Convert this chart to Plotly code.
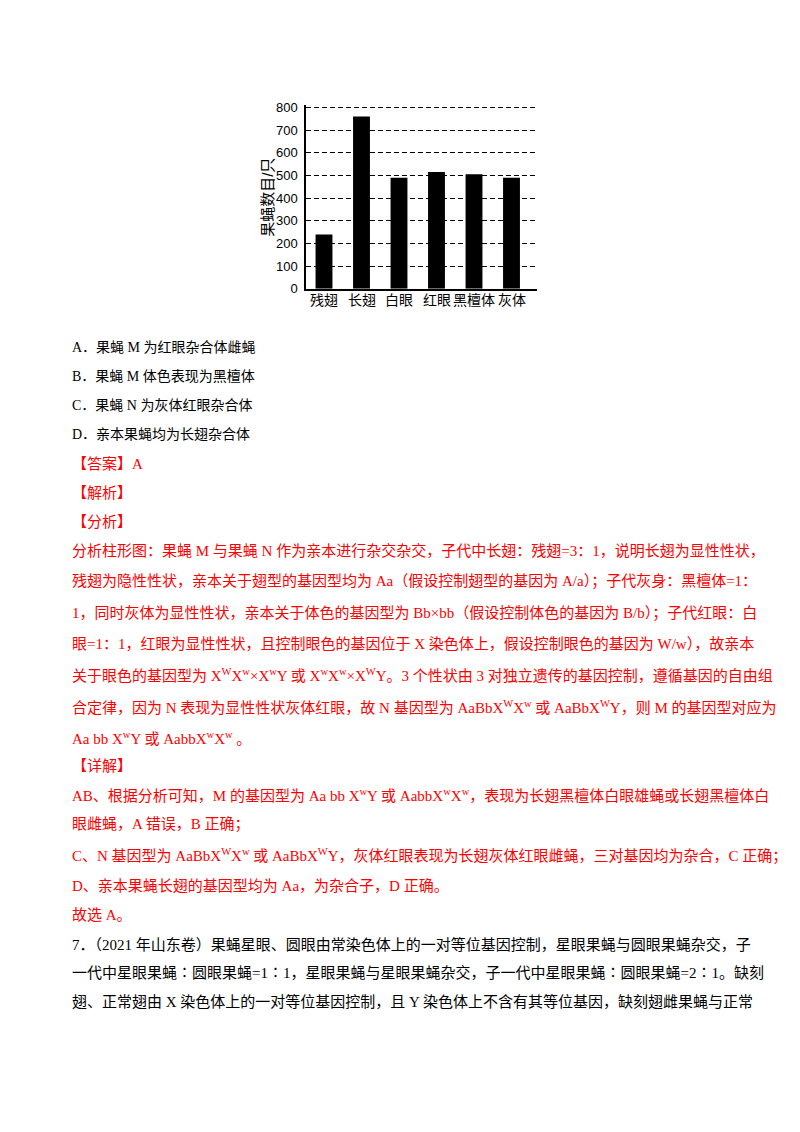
import plotly.graph_objects as go

# bar chart data: 子代果蝇数目
categories = ['残翅', '长翅', '白眼', '红眼', '黑檀体', '灰体']
counts = [240, 760, 490, 515, 505, 490]
y_ticks = [0, 100, 200, 300, 400, 500, 600, 700, 800]

# page text, one entry per printed line (pixel row, text, colour)
W = 'X<sup>W</sup>'
w = 'X<sup>w</sup>'
text_rows = [346, 375, 405, 434, 464, 494, 523,
             552, 583, 615, 646, 678, 710, 741,
             770, 799, 829, 860, 891, 920,
             950, 979, 1008]
text_lines = [
    'A．果蝇 M 为红眼杂合体雌蝇',
    'B．果蝇 M 体色表现为黑檀体',
    'C．果蝇 N 为灰体红眼杂合体',
    'D．亲本果蝇均为长翅杂合体',
    '【答案】A',
    '【解析】',
    '【分析】',
    '分析柱形图：果蝇 M 与果蝇 N 作为亲本进行杂交杂交，子代中长翅：残翅=3：1，说明长翅为显性性状，',
    '残翅为隐性性状，亲本关于翅型的基因型均为 Aa（假设控制翅型的基因为 A/a）；子代灰身：黑檀体=1：',
    '1，同时灰体为显性性状，亲本关于体色的基因型为 Bb×bb（假设控制体色的基因为 B/b）；子代红眼：白',
    '眼=1：1，红眼为显性性状，且控制眼色的基因位于 X 染色体上，假设控制眼色的基因为 W/w），故亲本',
    '关于眼色的基因型为 ' + W + w + '×' + w + 'Y 或 ' + w + w + '×' + W + 'Y。3 个性状由 3 对独立遗传的基因控制，遵循基因的自由组',
    '合定律，因为 N 表现为显性性状灰体红眼，故 N 基因型为 AaBb' + W + w + ' 或 AaBb' + W + 'Y，则 M 的基因型对应为',
    'Aa bb ' + w + 'Y 或 Aabb' + w + w + ' 。',
    '【详解】',
    'AB、根据分析可知，M 的基因型为 Aa bb ' + w + 'Y 或 Aabb' + w + w + '，表现为长翅黑檀体白眼雄蝇或长翅黑檀体白',
    '眼雌蝇，A 错误，B 正确；',
    'C、N 基因型为 AaBb' + W + w + ' 或 AaBb' + W + 'Y，灰体红眼表现为长翅灰体红眼雌蝇，三对基因均为杂合，C 正确；',
    'D、亲本果蝇长翅的基因型均为 Aa，为杂合子，D 正确。',
    '故选 A。',
    '7．（2021 年山东卷）果蝇星眼、圆眼由常染色体上的一对等位基因控制，星眼果蝇与圆眼果蝇杂交，子',
    '一代中星眼果蝇∶圆眼果蝇=1∶1，星眼果蝇与星眼果蝇杂交，子一代中星眼果蝇∶圆眼果蝇=2∶1。缺刻',
    '翅、正常翅由 X 染色体上的一对等位基因控制，且 Y 染色体上不含有其等位基因，缺刻翅雌果蝇与正常',
]
text_colors = ['black'] * 4 + ['#ff0000'] * 16 + ['black'] * 3
text_sizes = [14] * 4 + [15] * 19

H = 1132
OFF = 8  # the page body margin pushes the figure 8px right and down
body_font = 'Liberation Serif, Noto Sans CJK SC'
chart_font = 'Liberation Sans, Noto Sans CJK SC'
num_font = 'Liberation Sans Narrow, Liberation Sans'


def px(x):
    return (x - OFF) / 800


def py(y):
    return 1 - (y - OFF) / H


bars = go.Bar(x=list(range(len(categories))), y=counts, width=0.45,
              marker=dict(color='black', line=dict(width=0)))

fig = go.Figure(data=[bars])

notes = []
for row, line, col, sz in zip(text_rows, text_lines, text_colors, text_sizes):
    notes.append(dict(x=px(70), y=py(row), xref='paper', yref='paper',
                      xanchor='left', yanchor='middle', showarrow=False,
                      text=line, font=dict(size=sz, color=col, family=body_font)))

# category labels under the bars
for i, cat in enumerate(categories):
    notes.append(dict(x=i, y=py(298), xref='x', yref='paper',
                      xanchor='center', yanchor='middle', showarrow=False,
                      text=cat, font=dict(size=14, color='black', family=chart_font)))

# y axis title, written vertically
notes.append(dict(x=px(268), y=py(195), xref='paper', yref='paper',
                  xanchor='center', yanchor='middle',
                  showarrow=False, textangle=-90, text='果蝇数目/只',
                  font=dict(size=15, color='black', family=chart_font)))

fig.update_layout(
    width=800, height=H, margin=dict(l=0, r=0, t=0, b=0),
    paper_bgcolor='white', plot_bgcolor='white', showlegend=False,
    annotations=notes,
    xaxis=dict(domain=[px(306), px(537)], range=[-0.48, 5.68],
               showticklabels=False, showgrid=False, zeroline=False,
               showline=True, linecolor='black', linewidth=1.5, ticks=''),
    yaxis=dict(domain=[py(287), py(101.2)], range=[0, 810],
               tickmode='array', tickvals=y_ticks, showgrid=True,
               gridcolor='black', griddash='5px,3px', gridwidth=1,
               zeroline=False, showline=True, linecolor='black', linewidth=1.5,
               ticks='', ticklabelstandoff=4,
               tickfont=dict(size=13, color='black', family=num_font)),
)

fig.write_html('out.html')
